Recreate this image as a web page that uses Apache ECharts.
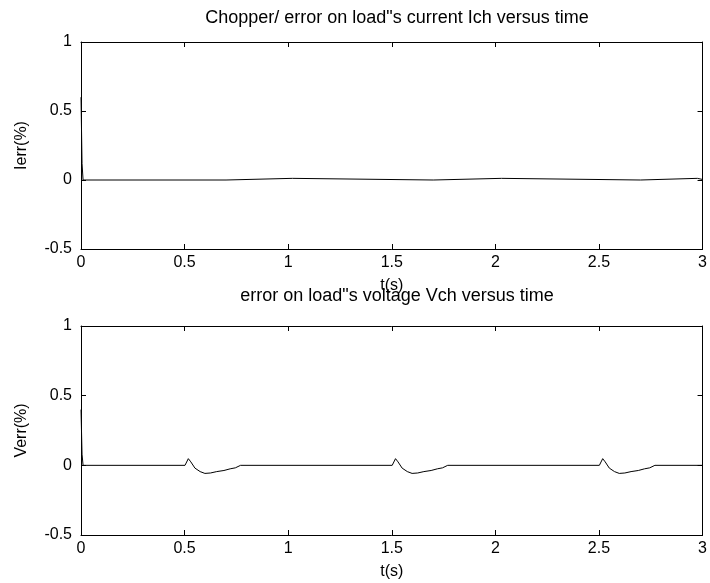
<!DOCTYPE html>
<html>
<head>
<meta charset="utf-8">
<script src="https://cdn.jsdelivr.net/npm/echarts@6/dist/echarts.min.js"></script>
<style>
html,body{margin:0;padding:0;background:#fff;}
#chart{width:710px;height:583px;}
</style>
</head>
<body>
<div id="chart"></div>
<script>
// ---- data ----
var titleTop = 'Chopper/ error on load"s current Ich versus time';
var titleBottom = 'error on load"s voltage Vch versus time';
var xTicks = [0, 0.5, 1, 1.5, 2, 2.5, 3];
var yTicks = [-0.5, 0, 0.5, 1];

var ierrT = [0, 0.002, 0.005, 0.010, 0.700, 0.704, 1.020, 1.024, 1.700, 1.704, 2.030, 2.034, 2.700, 2.704, 2.975, 2.980, 3.000];
var ierrV = [0.6, 0.6, 0.12, 0, 0, 0.012, 0.012, 0, 0, 0.012, 0.012, 0, 0, 0.012, 0.012, 0.004, 0.004];

var verrT = [0, 0.002, 0.005, 0.010,
  0.502, 0.518, 0.530, 0.550, 0.575, 0.598, 0.625, 0.655, 0.690, 0.720, 0.745, 0.770,
  1.502, 1.518, 1.530, 1.550, 1.575, 1.598, 1.625, 1.655, 1.690, 1.720, 1.745, 1.770,
  2.502, 2.518, 2.530, 2.550, 2.575, 2.598, 2.625, 2.655, 2.690, 2.720, 2.745, 2.770,
  3.000];
var verrV = [0.4, 0.4, 0.08, 0,
  0, 0.048, 0.025, -0.02, -0.045, -0.058, -0.055, -0.045, -0.037, -0.025, -0.018, 0,
  0, 0.048, 0.025, -0.02, -0.045, -0.058, -0.055, -0.045, -0.037, -0.025, -0.018, 0,
  0, 0.048, 0.025, -0.02, -0.045, -0.058, -0.055, -0.045, -0.037, -0.025, -0.018, 0,
  0];

function pairs(t, v) { return t.map(function (x, i) { return [x, v[i]]; }); }

var FONT = 'Liberation Sans, Arial, sans-serif';
var black = '#000';

function xAx(gi, showLabel, pos) {
  return {
    type: 'value', gridIndex: gi, position: pos, min: xTicks[0], max: xTicks[xTicks.length - 1], interval: 0.5,
    axisLine: { show: true, onZero: false, lineStyle: { color: black, width: 1 } },
    axisTick: { show: true, inside: true, length: 5, lineStyle: { color: black } },
    axisLabel: { show: showLabel, color: black, fontFamily: FONT, fontSize: 16, margin: 6,
      formatter: function (v) { return String(v); } },
    splitLine: { show: false },
    name: showLabel ? 't(s)' : '', nameLocation: 'middle', nameGap: 29,
    nameTextStyle: { color: black, fontFamily: FONT, fontSize: 16 }
  };
}
function yAx(gi, showLabel, pos, name) {
  return {
    type: 'value', gridIndex: gi, position: pos, min: yTicks[0], max: yTicks[yTicks.length - 1], interval: 0.5,
    axisLine: { show: true, onZero: false, lineStyle: { color: black, width: 1 } },
    axisTick: { show: true, inside: true, length: 5, lineStyle: { color: black } },
    axisLabel: { show: showLabel, color: black, fontFamily: FONT, fontSize: 16, margin: 9,
      formatter: function (v) { return String(v); } },
    splitLine: { show: false },
    name: showLabel ? name : '', nameLocation: 'middle', nameGap: 51,
    nameTextStyle: { color: black, fontFamily: FONT, fontSize: 16 }
  };
}

var chart = echarts.init(document.getElementById('chart'), null, { renderer: 'canvas' });
chart.setOption({
  backgroundColor: '#fff',
  animation: false,
  title: [
    { text: titleTop, left: 392, top: 4, textAlign: 'center',
      textStyle: { color: black, fontFamily: FONT, fontSize: 18, fontWeight: 'normal' } },
    { text: titleBottom, left: 392, top: 282, textAlign: 'center',
      textStyle: { color: black, fontFamily: FONT, fontSize: 18, fontWeight: 'normal' } }
  ],
  grid: [
    { left: 81, right: 7, top: 42, height: 207 },
    { left: 81, right: 7, top: 326, height: 209 }
  ],
  xAxis: [xAx(0, true, 'bottom'), xAx(0, false, 'top'), xAx(1, true, 'bottom'), xAx(1, false, 'top')],
  yAxis: [yAx(0, true, 'left', 'Ierr(%)'), yAx(0, false, 'right'), yAx(1, true, 'left', 'Verr(%)'), yAx(1, false, 'right')],
  series: [
    { type: 'line', xAxisIndex: 0, yAxisIndex: 0, data: pairs(ierrT, ierrV), showSymbol: false,
      lineStyle: { color: black, width: 1 } },
    { type: 'line', xAxisIndex: 2, yAxisIndex: 2, data: pairs(verrT, verrV), showSymbol: false,
      lineStyle: { color: black, width: 1 } }
  ]
});
</script>
</body>
</html>
